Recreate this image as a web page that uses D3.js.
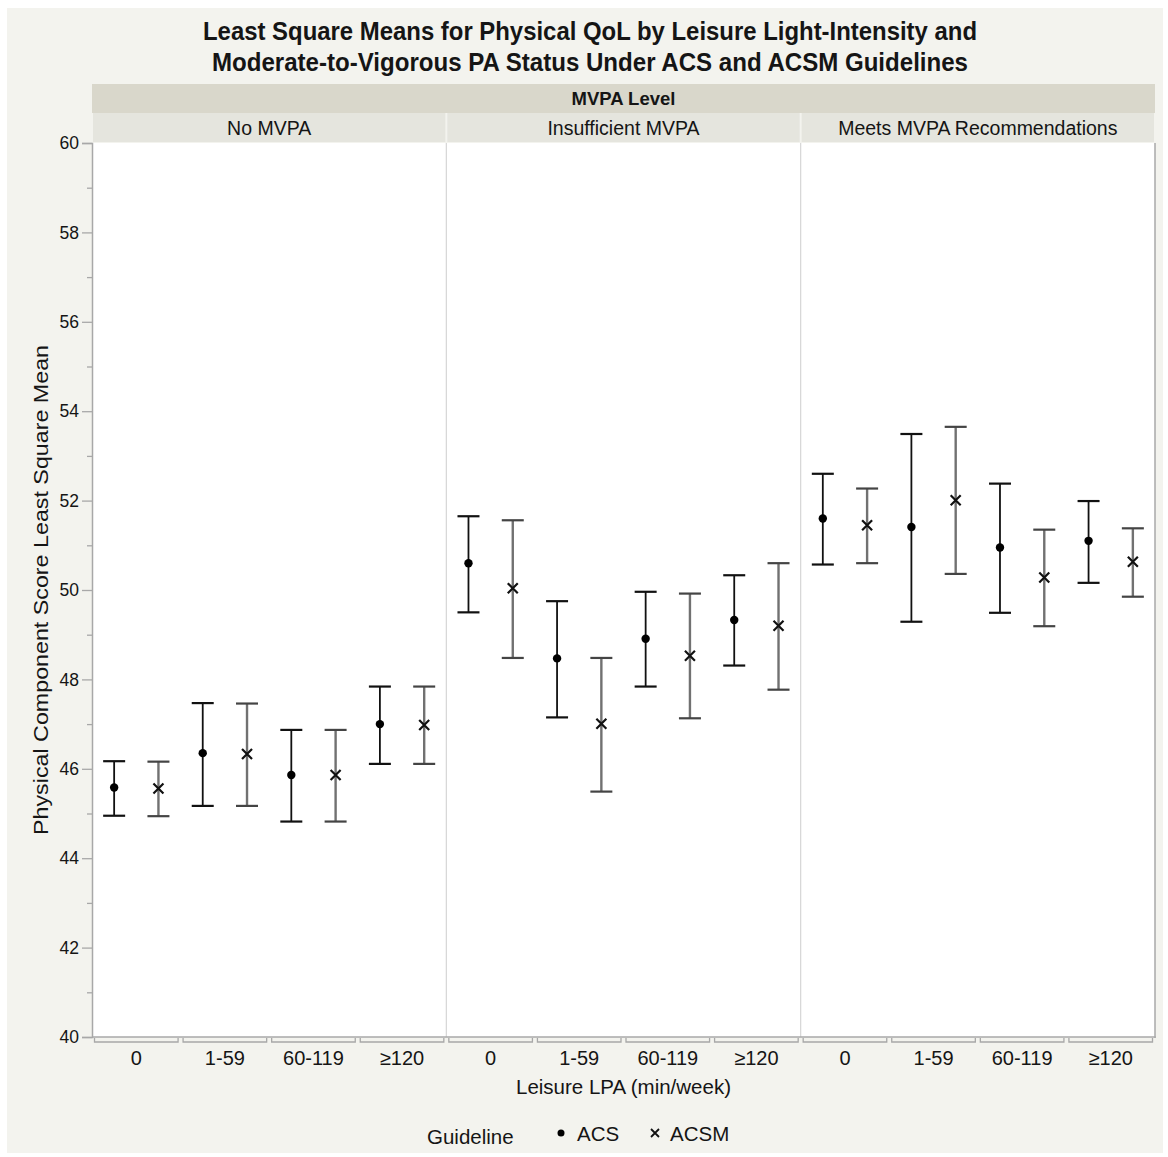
<!DOCTYPE html>
<html>
<head>
<meta charset="utf-8">
<script src="https://cdn.jsdelivr.net/npm/d3@7"></script>
<style>
  body { margin: 0; background: #fff; }
  text { font-family: "Liberation Sans", Arial, sans-serif; fill: #151515; }
</style>
</head>
<body>
<div id="chart"></div>
<script>
// Least square means, by MVPA level (rows) and leisure LPA category (columns)
const panels = ["No MVPA", "Insufficient MVPA", "Meets MVPA Recommendations"];
const lpaCats = ["0", "1-59", "60-119", "≥120"];
const guidelines = ["ACS", "ACSM"];

const acsMean  = [[45.58, 46.35, 45.86, 47.00], [50.60, 48.47, 48.91, 49.33], [51.60, 51.41, 50.95, 51.10]];
const acsLower = [[44.95, 45.17, 44.82, 46.11], [49.50, 47.15, 47.84, 48.31], [50.57, 49.29, 49.49, 50.16]];
const acsUpper = [[46.17, 47.47, 46.87, 47.84], [51.65, 49.75, 49.96, 50.33], [52.60, 53.49, 52.38, 51.99]];

const acsmMean  = [[45.56, 46.33, 45.86, 46.98], [50.04, 47.01, 48.53, 49.20], [51.45, 52.01, 50.28, 50.63]];
const acsmLower = [[44.94, 45.17, 44.82, 46.11], [48.48, 45.49, 47.13, 47.77], [50.60, 50.36, 49.19, 49.85]];
const acsmUpper = [[46.16, 47.46, 46.87, 47.84], [51.56, 48.48, 49.92, 50.60], [52.27, 53.65, 51.35, 51.38]];

const yTicks = [40, 42, 44, 46, 48, 50, 52, 54, 56, 58, 60];

let rows = [];
panels.forEach((p, i) => {
    lpaCats.forEach((c, j) => {
        rows.push({ panel: p, cat: c, g: "ACS", mean: acsMean[i][j], lo: acsLower[i][j], hi: acsUpper[i][j] });
        rows.push({ panel: p, cat: c, g: "ACSM", mean: acsmMean[i][j], lo: acsmLower[i][j], hi: acsmUpper[i][j] });
    });
});

const W = 1168, H = 1157;
const plot = { left: 92, right: 1155, top: 143, bottom: 1037 };

const svg = d3.select("#chart").append("svg")
    .attr("width", W).attr("height", H);

svg.append("rect").attr("x", 7).attr("y", 8).attr("width", 1156).attr("height", 1145)
    .attr("fill", "#f3f3ee");

// title
const title = svg.append("g").style("font-weight", "bold");
title.append("text").attr("x", 590).attr("y", 40).attr("text-anchor", "middle")
    .style("font-family", "'Liberation Sans Narrow', 'Arial Narrow', sans-serif")
    .style("font-size", "25px").attr("textLength", 774).attr("lengthAdjust", "spacingAndGlyphs")
    .text("Least Square Means for Physical QoL by Leisure Light-Intensity and");
title.append("text").attr("x", 590).attr("y", 71).attr("text-anchor", "middle")
    .style("font-family", "'Liberation Sans Narrow', 'Arial Narrow', sans-serif")
    .style("font-size", "25px").attr("textLength", 756).attr("lengthAdjust", "spacingAndGlyphs")
    .text("Moderate-to-Vigorous PA Status Under ACS and ACSM Guidelines");

const xPanel = d3.scaleBand().domain(panels).range([plot.left, plot.right]);
const xCat = d3.scaleBand().domain(lpaCats).range([0, xPanel.bandwidth()]);
const xG = d3.scaleBand().domain(guidelines).range([0, xCat.bandwidth()]);
const y = d3.scaleLinear().domain([40, 60]).range([plot.bottom, plot.top]);

// header strips
svg.append("rect").attr("x", plot.left).attr("y", 84).attr("width", plot.right - plot.left).attr("height", 29)
    .attr("fill", "#d9d7cb");
svg.append("text").attr("x", (plot.left + plot.right) / 2).attr("y", 105).attr("text-anchor", "middle")
    .style("font-size", "18.5px").style("font-weight", "bold").text("MVPA Level");

panels.forEach(p => {
    svg.append("rect").attr("x", xPanel(p) + 1).attr("y", 113).attr("width", xPanel.bandwidth() - 2).attr("height", 29)
        .attr("fill", "#e5e5de");
    svg.append("text").attr("x", xPanel(p) + xPanel.bandwidth() / 2).attr("y", 135).attr("text-anchor", "middle")
        .style("font-size", "19.5px").text(p);
});

// plot background
svg.append("rect").attr("x", plot.left).attr("y", plot.top)
    .attr("width", plot.right - plot.left).attr("height", plot.bottom - plot.top).attr("fill", "#fff");

// panel separators
panels.slice(1).forEach(p => {
    svg.append("line").attr("x1", xPanel(p)).attr("x2", xPanel(p))
        .attr("y1", plot.top).attr("y2", plot.bottom).attr("stroke", "#d6d6d6").attr("stroke-width", 1.2);
});
svg.append("line").attr("x1", plot.right).attr("x2", plot.right)
    .attr("y1", plot.top).attr("y2", plot.bottom + 1).attr("stroke", "#a8a8a8").attr("stroke-width", 1.5);

// y axis
const yAxis = svg.append("g").attr("transform", `translate(${plot.left},0)`)
    .call(d3.axisLeft(y).tickValues(yTicks).tickSize(10).tickPadding(3));
yAxis.select(".domain").attr("stroke", "#a8a8a8").attr("stroke-width", 1.5);
yAxis.selectAll(".tick line").attr("stroke", "#a8a8a8").attr("stroke-width", 1.3);
yAxis.selectAll(".tick text").style("font-size", "17.5px").attr("fill", "#222")
    .style("font-family", "'Liberation Sans', Arial, sans-serif");
const minor = svg.append("g").attr("transform", `translate(${plot.left},0)`)
    .call(d3.axisLeft(y).tickValues(d3.range(41, 60, 2)).tickSize(5).tickFormat(""));
minor.select(".domain").remove();
minor.selectAll(".tick line").attr("stroke", "#a8a8a8").attr("stroke-width", 1.3);

svg.append("text").attr("transform", `translate(48,590) rotate(-90)`).attr("text-anchor", "middle")
    .style("font-size", "21px").attr("textLength", 490).attr("lengthAdjust", "spacingAndGlyphs")
    .text("Physical Component Score Least Square Mean");

// x axis line and category brackets
svg.append("line").attr("x1", plot.left).attr("x2", plot.right + 0.75)
    .attr("y1", plot.bottom).attr("y2", plot.bottom).attr("stroke", "#a8a8a8").attr("stroke-width", 1.5);

panels.forEach(p => {
    const g = svg.append("g").attr("transform", `translate(${xPanel(p)},0)`);
    lpaCats.forEach(c => {
        const x0 = xCat(c) + 2.5, x1 = xCat(c) + xCat.bandwidth() - 2.5;
        g.append("path").attr("d", `M${x0},${plot.bottom + 1}V${plot.bottom + 5}H${x1}V${plot.bottom + 1}`)
            .attr("fill", "none").attr("stroke", "#a8a8a8").attr("stroke-width", 1.3);
        g.append("text").attr("x", xCat(c) + xCat.bandwidth() / 2).attr("y", 1065).attr("text-anchor", "middle")
            .style("font-size", "20px").text(c);
    });
});

svg.append("text").attr("x", (plot.left + plot.right) / 2).attr("y", 1094).attr("text-anchor", "middle")
    .style("font-size", "20.5px").text("Leisure LPA (min/week)");

// error bars
const xPos = d => xPanel(d.panel) + xCat(d.cat) + xG(d.g) + xG.bandwidth() / 2;
const capHalf = 11;
const colorOf = g => g === "ACS" ? "#111" : "#717171";
const widthOf = g => g === "ACS" ? 1.8 : 2.4;

const bars = svg.append("g").selectAll("g").data(rows).enter().append("g");
bars.append("line")
    .attr("x1", xPos).attr("x2", xPos)
    .attr("y1", d => y(d.lo)).attr("y2", d => y(d.hi))
    .attr("stroke", d => colorOf(d.g)).attr("stroke-width", d => widthOf(d.g));
bars.append("line")
    .attr("x1", d => xPos(d) - capHalf).attr("x2", d => xPos(d) + capHalf)
    .attr("y1", d => y(d.hi)).attr("y2", d => y(d.hi))
    .attr("stroke", d => d.g === "ACS" ? "#111" : "#444").attr("stroke-width", 2.2);
bars.append("line")
    .attr("x1", d => xPos(d) - capHalf).attr("x2", d => xPos(d) + capHalf)
    .attr("y1", d => y(d.lo)).attr("y2", d => y(d.lo))
    .attr("stroke", d => d.g === "ACS" ? "#111" : "#444").attr("stroke-width", 2.2);

bars.filter(d => d.g === "ACS").append("circle")
    .attr("cx", xPos).attr("cy", d => y(d.mean)).attr("r", 4.2).attr("fill", "#000");
bars.filter(d => d.g === "ACSM").append("path")
    .attr("d", d => { const x = xPos(d), yy = y(d.mean), s = 5;
        return `M${x - s},${yy - s}L${x + s},${yy + s}M${x - s},${yy + s}L${x + s},${yy - s}`; })
    .attr("stroke", "#111").attr("stroke-width", 2.2).attr("fill", "none");

// legend
const leg = svg.append("g");
leg.append("text").attr("x", 427).attr("y", 1144).style("font-size", "20.5px").text("Guideline");
leg.append("circle").attr("cx", 561).attr("cy", 1133).attr("r", 3.5).attr("fill", "#000");
leg.append("text").attr("x", 577).attr("y", 1141).style("font-size", "20.5px").text("ACS");
leg.append("path").attr("d", "M651,1129L659,1137M651,1137L659,1129")
    .attr("stroke", "#111").attr("stroke-width", 1.8);
leg.append("text").attr("x", 670).attr("y", 1141).style("font-size", "20.5px").text("ACSM");
</script>
</body>
</html>
